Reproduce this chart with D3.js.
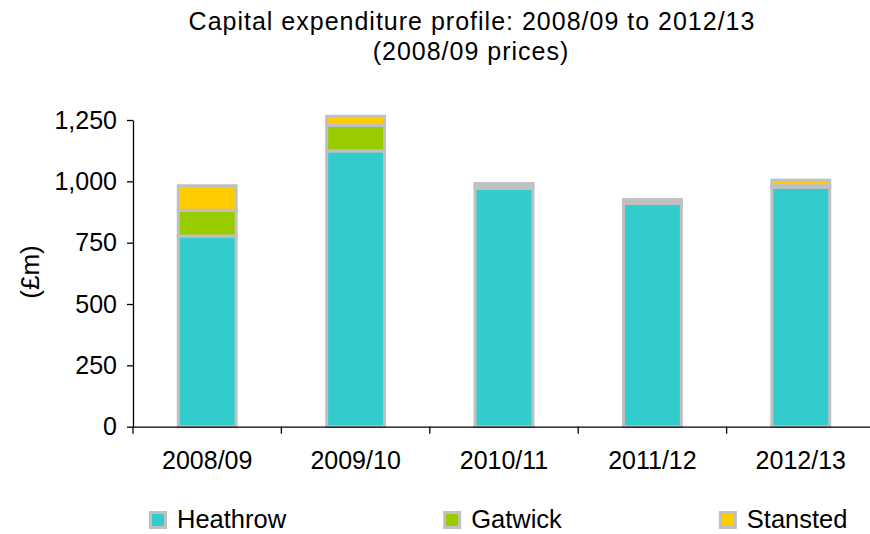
<!doctype html>
<html lang="en">
  <head>
    <meta charset="utf-8">
    <title>Capital expenditure profile</title>
    <script src="https://d3js.org/d3.v7.min.js"></script>
    <style>
      body {
        margin: 0;
        background: #fff;
        overflow: hidden;
        font-family: 'Liberation Sans', Arial, sans-serif;
      }
      svg { display: block; }
    </style>
  </head>
  <body>
    <div id="root"></div>
  </body>
  <script>

    //data:
    const years = ["2008/09", "2009/10", "2010/11", "2011/12", "2012/13"];
    const airports = ["Heathrow", "Gatwick", "Stansted"];
    const heathrow = [777, 1124, 971, 910, 976];
    const gatwick = [105, 104, 10, 8, 7];
    const stansted = [100, 37, 10, 8, 22];
    const yTicks = [0, 250, 500, 750, 1000, 1250];
    const colours = ["#33cccc", "#99cc00", "#ffcc00"];

    //constants:
    const width = 870;
    const height = 534;
    const x0 = 133, x1 = 875;
    const yBottom = 426.7, yTop = 120;

    const rows = years.map((y, i) => ({
      year: y, Heathrow: heathrow[i], Gatwick: gatwick[i], Stansted: stansted[i]
    }));

    const svg = d3.select("#root")
      .append("svg")
      .attr("width", width)
      .attr("height", height);

    const x = d3.scaleBand().domain(years).range([x0, x1]);
    const y = d3.scaleLinear().domain([0, 1250]).range([yBottom, yTop]);

    //title:
    const title = svg.append("text")
      .attr("text-anchor", "middle")
      .attr("font-size", "25px")
      .attr("letter-spacing", "1px")
      .attr("fill", "#000");
    title.append("tspan").attr("x", 472).attr("y", 30)
      .text("Capital expenditure profile: 2008/09 to 2012/13");
    title.append("tspan").attr("x", 471).attr("y", 60)
      .text("(2008/09 prices)");

    //bars:
    const stack = d3.stack().keys(airports)(rows);
    const barW = x.bandwidth() * 0.39;

    svg.append("g").selectAll("g")
      .data(stack)
      .enter()
      .append("g")
      .attr("fill", (d, i) => colours[i])
      .selectAll("rect")
      .data(d => d)
      .enter()
      .append("rect")
      .attr("x", d => x(d.data.year) + (x.bandwidth() - barW) / 2)
      .attr("y", d => y(d[1]))
      .attr("width", barW)
      .attr("height", d => y(d[0]) - y(d[1]))
      .attr("stroke", "#c0c0c0")
      .attr("stroke-width", 3);

    //y axis:
    const yAxis = svg.append("g")
      .attr("transform", `translate(${x0},0)`)
      .call(d3.axisLeft(y).tickValues(yTicks).tickSize(6).tickPadding(10)
        .tickFormat(d3.format(",")).tickSizeOuter(0));
    yAxis.select(".domain").attr("stroke", "#000").attr("stroke-width", 1.3);
    yAxis.selectAll(".tick line").attr("stroke", "#000").attr("stroke-width", 1.3);
    yAxis.selectAll("text")
      .attr("font-family", "'Liberation Sans', Arial, sans-serif")
      .attr("font-size", "25px")
      .attr("fill", "#000");

    //x axis:
    const xAxis = svg.append("g")
      .attr("transform", `translate(0,${yBottom})`)
      .call(d3.axisBottom(x).tickSize(0).tickPadding(25).tickSizeOuter(0));
    xAxis.select(".domain").attr("stroke", "#000").attr("stroke-width", 1.3);
    xAxis.selectAll("text")
      .attr("font-family", "'Liberation Sans', Arial, sans-serif")
      .attr("font-size", "25px")
      .attr("fill", "#000");
    xAxis.selectAll(".sep")
      .data(years)
      .enter()
      .append("line")
      .attr("class", "sep")
      .attr("x1", d => x(d))
      .attr("x2", d => x(d))
      .attr("y1", 0)
      .attr("y2", 7)
      .attr("stroke", "#000")
      .attr("stroke-width", 1.3);

    //y label:
    svg.append("text")
      .attr("transform", "translate(39,272) rotate(-90)")
      .attr("text-anchor", "middle")
      .attr("font-size", "26px")
      .text("(£m)");

    //legend:
    const legend = svg.append("g").attr("transform", "translate(149,0)");
    let lx = 0;
    airports.forEach((name, i) => {
      const item = legend.append("g").attr("transform", `translate(${lx},0)`);
      item.append("rect")
        .attr("x", 1.5).attr("y", 512.5)
        .attr("width", 15).attr("height", 15)
        .attr("fill", colours[i])
        .attr("stroke", "#c0c0c0")
        .attr("stroke-width", 3);
      const t = item.append("text")
        .attr("x", 28).attr("y", 528)
        .attr("font-size", "25.5px")
        .text(name);
      lx += 28 + t.node().getComputedTextLength() + 157;
    });

  </script>
</html>
